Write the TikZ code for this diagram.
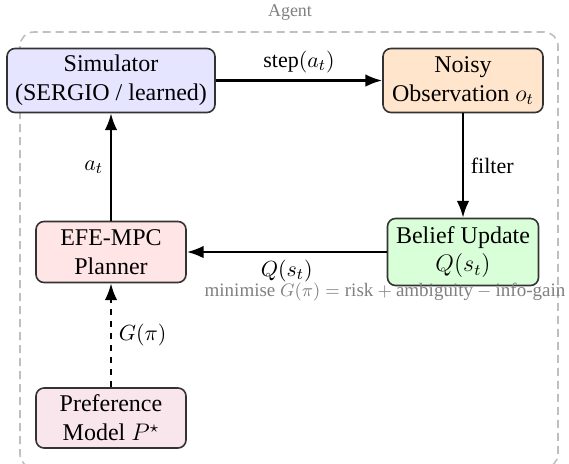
\documentclass[tikz,border=0pt]{standalone}
\usepackage{amsmath}
\usepackage{fontspec}
\setmainfont{Liberation Serif}
\usepackage{xcolor}
\usepackage{tikz}
\usetikzlibrary{arrows.meta,positioning}

\begin{document}
\begin{tikzpicture}[x=0.5pt, y=-0.5pt, >=Latex,
  box/.style={draw=black!80, thick, rounded corners=4pt, align=center, inner sep=2pt, font=\fontsize{12}{14.4}\selectfont},
  flow/.style={->, very thick},
  lbl/.style={font=\fontsize{11}{13}\selectfont},
  note/.style={text=black!50, font=\fontsize{9}{11}\selectfont}]
  \useasboundingbox (0,0) rectangle (569,463);
  % agent frame
  \draw[black!25, thick, dash pattern=on 4pt off 2.5pt, rounded corners=7pt] (20,32) rectangle (558,468);
  \node[note] (agent) at (290,12) {Agent};

  \node[box, fill=blue!10, minimum width=104pt, minimum height=32pt] (sim) at (111,80.5) {Simulator\\(SERGIO / learned)};
  \node[box, fill=orange!20, minimum width=80pt, minimum height=32pt] (obs) at (463,80.5) {Noisy\\Observation $o_t$};
  \node[box, fill=green!15, minimum width=75.5pt, minimum height=33.5pt] (belief) at (463,252) {Belief Update\\$Q(s_t)$};
  \node[box, fill=red!10, minimum width=75pt, minimum height=30.5pt] (plan) at (111,252) {EFE-MPC\\Planner};
  \node[box, fill=purple!10, minimum width=75pt, minimum height=30pt] (pref) at (111,418) {Preference\\Model $P^\star$};

  \draw[flow] (sim) -- node[lbl, above] {step$(a_t)$} (obs);
  \draw[flow] (obs) -- node[lbl, right] {filter} (belief);
  \draw[flow] (belief) -- node[lbl, below=0pt] {$Q(s_t)$} (plan);
  \draw[flow] (plan) -- node[lbl, left] {$a_t$} (sim);
  \draw[flow, dashed] (pref) -- node[lbl, right] {$G(\pi)$} (plan);

  \node[note, font=\fontsize{9.5}{11}\selectfont] (gnote) at (385,292) {minimise $G(\pi) = \text{risk} + \text{ambiguity} - \text{info-gain}$};
\end{tikzpicture}
\end{document}
